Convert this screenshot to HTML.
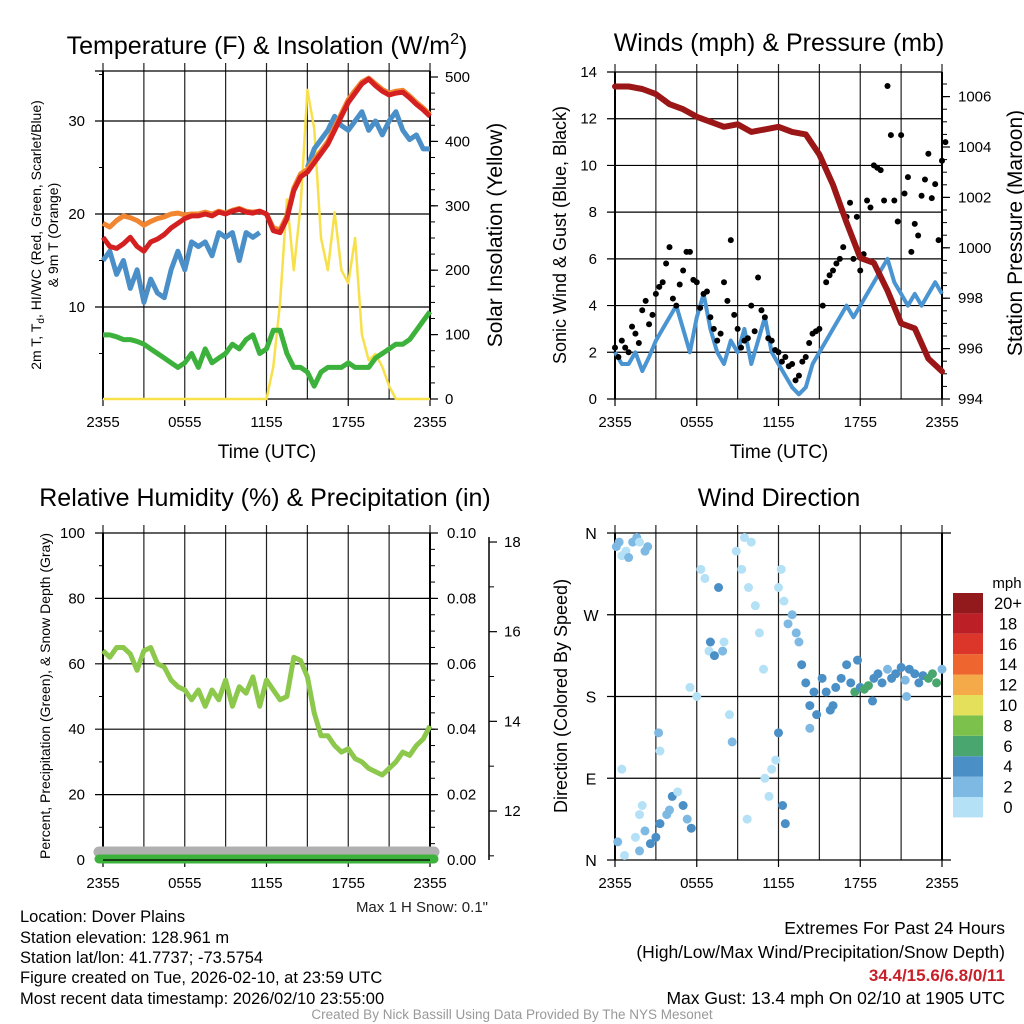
<!DOCTYPE html>
<html><head><meta charset="utf-8"><style>
html,body{margin:0;padding:0;background:#fff;}
svg{display:block;font-family:"Liberation Sans",sans-serif;}
</style></head><body>
<svg id="c" width="1024" height="1024" viewBox="0 0 1024 1024">
<g id="texts" fill="#000">
<text x="267" y="54" font-size="25" text-anchor="middle">Temperature (F) &amp; Insolation (W/m<tspan font-size="16" dy="-10">2</tspan><tspan dy="10">)</tspan></text>
<text x="779" y="51" font-size="25" text-anchor="middle">Winds (mph) &amp; Pressure (mb)</text>
<text x="265" y="506" font-size="25" text-anchor="middle">Relative Humidity (%) &amp; Precipitation (in)</text>
<text x="779" y="506" font-size="25" text-anchor="middle">Wind Direction</text>
<text x="267" y="458" font-size="19" text-anchor="middle">Time (UTC)</text>
<text x="779" y="458" font-size="19" text-anchor="middle">Time (UTC)</text>
<text transform="translate(41,235) rotate(-90)" font-size="14" text-anchor="middle">2m T, T<tspan font-size="10" dy="3">d</tspan><tspan dy="-3">, HI/WC (Red, Green, Scarlet/Blue)</tspan></text>
<text transform="translate(58,235) rotate(-90)" font-size="14" text-anchor="middle">&amp; 9m T (Orange)</text>
<text transform="translate(502,235) rotate(-90)" font-size="21" text-anchor="middle">Solar Insolation (Yellow)</text>
<text transform="translate(566,235) rotate(-90)" font-size="18" text-anchor="middle">Sonic Wind &amp; Gust (Blue, Black)</text>
<text transform="translate(1022,233) rotate(-90)" font-size="21" text-anchor="middle">Station Pressure (Maroon)</text>
<text transform="translate(50,696) rotate(-90)" font-size="14" text-anchor="middle">Percent, Precipitation (Green), &amp; Snow Depth (Gray)</text>
<text transform="translate(567,696) rotate(-90)" font-size="18" text-anchor="middle">Direction (Colored By Speed)</text>
<text x="488" y="912" font-size="15" fill="#222" text-anchor="end">Max 1 H Snow: 0.1"</text>
<g font-size="16.5">
<text x="20" y="922">Location: Dover Plains</text>
<text x="20" y="943">Station elevation: 128.961 m</text>
<text x="20" y="963">Station lat/lon: 41.7737; -73.5754</text>
<text x="20" y="983">Figure created on Tue, 2026-02-10, at 23:59 UTC</text>
<text x="20" y="1004">Most recent data timestamp: 2026/02/10 23:55:00</text>
</g>
<g font-size="17.5" text-anchor="end">
<text x="1005" y="934">Extremes For Past 24 Hours</text>
<text x="1005" y="958">(High/Low/Max Wind/Precipitation/Snow Depth)</text>
<text x="1005" y="981" fill="#c8202a" font-weight="bold" font-size="17">34.4/15.6/6.8/0/11</text>
<text x="1005" y="1004">Max Gust: 13.4 mph On 02/10 at 1905 UTC</text>
</g>
<text x="512" y="1019" font-size="13.5" fill="#999" text-anchor="middle">Created By Nick Bassill Using Data Provided By The NYS Mesonet</text>
</g>
</svg>
<script>
// ---- data ----
const xTickLabels = ["2355","0555","1155","1755","2355"];
const tempTicks = [10,20,30];
const solarTicks = [0,100,200,300,400,500];
const windTicks = [0,2,4,6,8,10,12,14];
const presTicks = [994,996,998,1000,1002,1004,1006];
const rhTicks = [0,20,40,60,80,100];
const precipLabels = ["0.00","0.02","0.04","0.06","0.08","0.10"];
const snowTicks = [12,14,16,18];
const dirLabels = ["N","E","S","W","N"];
const speedBinLabels = ["0","2","4","6","8","10","12","14","16","18","20+"];
const speedColors = ["#b4e1f6","#7db9e3","#4a8fc6","#49a66e","#7cc14b","#e5e05b","#f4aa48","#ee652f","#dc3529","#bd1f27","#92191c"];

// half-hourly (0..24h, 49 values)
const tempRed = [17.5,16.5,16.3,16.8,17.5,16.5,16,17,17.3,17.8,18.5,19,19.5,19.8,19.8,20,19.8,20.2,20,20.3,20.5,20.2,20.1,20.3,
 20,18.2,18,19.5,22.5,24,24.5,25.5,26.5,27.5,29,30.5,32,33,34,34.5,33.8,33.2,32.8,33,33.1,32.5,31.8,31.2,30.5];
const tempOrange = [19,18.6,19.3,19.8,19.6,19.3,18.8,19.2,19.5,19.7,20,20.1,19.9,20,20,20.2,20,20.3,20.1,20.4,20.6,20.3,20.2,20.3,
 20,18.5,18.3,19.8,22.8,24.3,24.8,25.8,26.8,27.8,29.3,30.8,32.3,33.3,34.2,34.6,34,33.4,33,33.2,33.3,32.7,32,31.4,30.7];
const tempBlue = [15,16,13.5,15,12,14,10.5,13,11.5,11,14,16,14,17,16.5,17,15.5,18,17.5,18,15,18,17.5,18,
 null,null,null,null,null,null,25,27,28,29,30.5,29.5,29,30,31,29,30,28.5,30,31,29,28,28.5,27,27];
const tempGreen = [7,7,6.8,6.5,6.5,6.3,6,5.5,5,4.5,4,3.5,4,5,3.5,5.5,4,4.5,5,6,5.5,6.5,7,5,
 5.5,7.5,7.5,5,3.5,3.5,3,1.5,3,3.5,3.5,3.5,4,3.5,3.5,3.5,4.5,5,5.5,6,6,6.5,7.5,8.5,9.5];
const solar = [0,0,0,0,0,0,0,0,0,0,0,0,0,0,0,0,0,0,0,0,0,0,0,0,
 0,50,150,310,200,300,480,420,250,200,290,200,180,250,100,60,70,50,20,0,0,0,0,0,0];
const windSonic = [2,1.5,1.5,2,1.2,1.8,2.5,3,3.5,4,3,2,3.5,4.5,3,2,1.5,2.5,2,3,1.5,2.5,3.5,2,
 1.5,1,0.5,0.2,0.5,1.5,2,2.5,3,3.5,4,3.5,4,4.5,5,5.5,6,5,4.5,4,4.5,4,4.5,5,4.5];
const windGust = [2.2,2.5,2,2.8,3.8,3.2,4.5,5,6.5,4,5.5,6.3,5,4.5,3.5,2.5,5,6.8,3,2.5,4,5.2,3.5,2.5,
 2,1.8,1.5,1,1.8,2.8,3,5,5.5,6,7.8,6,5.5,8.5,10,9.8,13.4,8.5,11.3,9.5,7.5,8.7,10.5,9.2,10.2];
const windGust2 = [1.8,2.2,3.1,2.4,4.2,3.6,4.8,5.8,4.3,4.9,6.3,5.1,3.9,4.6,3,2.8,4.2,3.6,2.2,2.6,2.9,3.8,2.6,2.1,
 1.6,1.4,0.8,1.6,2.4,2.9,4,5.3,5.8,6.5,8.4,7.8,6.2,8.2,9.9,8.5,11.3,7.6,8.8,6.3,7,9.4,8.6,6.8,11];
const pressure = [1006.4,1006.4,1006.3,1006.1,1005.7,1005.5,1005.2,1005,1004.8,1004.9,1004.6,1004.7,1004.8,1004.6,1004.5,1003.7,1002.5,1001,999.6,999.4,998.3,997,996.8,995.6,995.1];
const rh = [64,62,65,65,63,58,64,65,60,59,55,53,52,49,52,47,52,49,55,47,53,51,56,47,
 55,52,49,50,62,61,56,45,38,38,35,33,34,31,30,28,27,26,28,30,33,32,35,37,41];
const dirHours = [0.1,0.3,0.5,0.8,1,1.3,1.6,1.8,2.2,2.4,0.2,0.7,1.5,1.8,2.2,2.6,3,3.3,3.8,4,4.2,4.6,5,5.3,5.6,0.5,2,1.8,3.2,3.3,5.5,6,6.3,6.6,6.9,7,7.3,7.6,7.9,8,8.4,8.6,8.9,9.3,9.5,9.7,9.8,10,10.3,10.6,10.9,11,11.3,11.5,11.8,12,12.3,12.5,12,12.2,12.4,12.7,13,13.3,13.5,13.7,14,14.3,14.6,14.3,14.8,15.2,15.5,15.8,16.2,16.6,17,17.3,17.6,18,18.3,18.6,19,19.3,19.6,20,20.3,20.6,21,21.3,21.6,22,22.3,22.6,23,23.3,23.6,24,17.8,21.4,16,18.9];
const dirDegs = [345,350,335,340,333,350,355,350,340,345,20,5,25,10,32,18,25,40,50,55,70,75,60,45,35,100,60,50,140,120,190,180,320,310,230,240,225,300,230,240,160,130,340,320,355,45,300,350,280,250,210,90,70,100,110,140,60,40,300,320,285,260,270,250,240,215,195,170,185,145,160,200,185,165,190,200,215,195,185,190,188,192,200,205,195,210,200,205,212,198,210,205,195,203,200,205,195,210,220,180,170,175];
const dirSpeeds = [2.5,3,1,1.5,3,3.5,3,1,3.5,2,3,1,1,3.5,3,4.5,4,4,3,3.5,4.5,1,4,3.5,4.5,1,1,1,3,1.5,1,1,1,1,1.2,4,4.5,4.5,2.5,1,1,3.5,1,1,1,1,1,1,1,1,1,1,1,1.5,1.5,4,4,4.5,1,1,1,3.5,3,3,2.5,4,4,4.5,4.5,2.5,4,5,4.5,4.5,4,5,4,4.5,6,4.5,6.5,6.5,4,4,4.5,3,4.5,4,4.5,3,4,4.5,4,5,6.5,6,7,3,4.5,2.5,4,4.5];

// ---- axes ----
const NS="http://www.w3.org/2000/svg";
const svg=document.getElementById('c');
const xT=h=>103+h*13.625, xW=h=>615+h*13.625;
const yTemp=v=>400-v*9.3, ySol=v=>399-v*0.644;
const yWind=v=>399-v*(327/14), yPres=p=>399-(p-994)*25.2;
const yRH=v=>860-v*3.27, ySnow=v=>811-(v-12)*44.83;
const yDir=d=>860-d/360*327;
function mk(tag,attrs,parent){const e=document.createElementNS(NS,tag);for(const k in attrs)e.setAttribute(k,attrs[k]);(parent||svg).appendChild(e);return e;}
function txt(x,y,s,size,anchor,parent){const e=mk('text',{x:x,y:y,'font-size':size,'text-anchor':anchor},parent);e.textContent=s;return e;}
function line(x1,y1,x2,y2,w,col,parent){return mk('line',{x1:x1,y1:y1,x2:x2,y2:y2,stroke:col||'#000','stroke-width':w},parent);}
function pathFrom(xs,ys,fx,fy){let d='',pen=false;for(let i=0;i<ys.length;i++){if(ys[i]===null){pen=false;continue;}d+=(pen?'L':'M')+fx(xs[i]).toFixed(1)+' '+fy(ys[i]).toFixed(1);pen=true;}return d;}
const half=tempRed.map((_,i)=>i*0.5), hourly=pressure.map((_,i)=>i);

function frame(x0,top,bottom,name){
  const g=mk('g',{});
  
  
  for(let i=0;i<=8;i++){const x=x0+i*40.875;line(x,top-8,x,bottom,1.2,'#222',g);}
  line(x0,top,x0,bottom,2,'#000',g);line(x0+327,top,x0+327,bottom,2,'#000',g);
  for(let i=0;i<=4;i++){const x=x0+i*81.75;line(x,bottom,x,bottom+7,1.2,'#000',g);const t=txt(x,bottom+28,xTickLabels[i],15,'middle',g);
  
  }
  return g;
}

// Panel 1: Temperature
const g1=frame(103,71,399,'temp-panel');
tempTicks.forEach(v=>{line(95,yTemp(v),430,yTemp(v),1.2,'#000',g1);txt(85,yTemp(v)+5,String(v),15,'end',g1);});
line(95,71,430,71,1.2,'#000',g1);
[5,15,25,35].forEach(v=>line(99,yTemp(v),103,yTemp(v),1,'#000',g1));
line(103,399,430,399,1.2,'#000',g1);
solarTicks.forEach(v=>{line(430,ySol(v),438,ySol(v),1.2,'#000',g1);txt(445,ySol(v)+5,String(v),15,'start',g1);});
for(let v=25;v<500;v+=25)line(430,ySol(v),435,ySol(v),1,'#000',g1);
const pS=mk('path',{d:pathFrom(half,solar,xT,ySol),fill:'none',stroke:'#f7e04a','stroke-width':2.5,'stroke-linejoin':'round'},g1);


const pG=mk('path',{d:pathFrom(half,tempGreen,xT,yTemp),fill:'none',stroke:'#3cb23c','stroke-width':5,'stroke-linejoin':'round'},g1);


const pB=mk('path',{d:pathFrom(half,tempBlue,xT,yTemp),fill:'none',stroke:'#4a8fc8','stroke-width':5,'stroke-linejoin':'round'},g1);


const pO=mk('path',{d:pathFrom(half,tempOrange,xT,yTemp),fill:'none',stroke:'#f28530','stroke-width':5,'stroke-linejoin':'round'},g1);


const pR=mk('path',{d:pathFrom(half,tempRed,xT,yTemp),fill:'none',stroke:'#d42020','stroke-width':5,'stroke-linejoin':'round'},g1);



// Panel 2: Winds
const g2=frame(615,72,399,'wind-panel');
windTicks.forEach(v=>{line(607,yWind(v),942,yWind(v),1.2,'#000',g2);txt(597,yWind(v)+5,String(v),15,'end',g2);});
presTicks.forEach(v=>{line(942,yPres(v),950,yPres(v),1.2,'#000',g2);txt(958,yPres(v)+5,String(v),15,'start',g2);});
for(let v=994.5;v<1007;v+=0.5)line(942,yPres(v),947,yPres(v),1,'#000',g2);
const pW=mk('path',{d:pathFrom(half,windSonic,xW,yWind),fill:'none',stroke:'#4a94d2','stroke-width':4,'stroke-linejoin':'round'},g2);


windGust.forEach((v,i)=>{const c=mk('circle',{cx:xW(half[i]),cy:yWind(v),r:3,fill:'#000'},g2);

});
windGust2.forEach((v,i)=>{const c=mk('circle',{cx:xW(half[i]+0.25),cy:yWind(v),r:3,fill:'#000'},g2);

});
const pP=mk('path',{d:pathFrom(hourly,pressure,xW,yPres),fill:'none',stroke:'#9b1616','stroke-width':6,'stroke-linejoin':'round','stroke-linecap':'round'},g2);



// Panel 3: RH
const g3=frame(103,533,860,'rh-panel');
rhTicks.forEach((v,i)=>{line(95,yRH(v),430,yRH(v),1.2,'#000',g3);txt(85,yRH(v)+5,String(v),15,'end',g3);line(430,yRH(v),438,yRH(v),1.2,'#000',g3);txt(447,yRH(v)+5,precipLabels[i],15,'start',g3);});
for(let v=10;v<100;v+=20)line(99,yRH(v),103,yRH(v),1,'#000',g3);
for(let v=5;v<100;v+=5)line(430,yRH(v),435,yRH(v),1,'#000',g3);
line(489,537,489,860,1.5,'#000',g3);
snowTicks.forEach(v=>{line(489,ySnow(v),497,ySnow(v),1.2,'#000',g3);txt(504,ySnow(v)+5,String(v),15,'start',g3);});
[11,13,15,17].forEach(v=>line(489,ySnow(v),494,ySnow(v),1,'#000',g3));
const snow=mk('line',{x1:99,y1:852,x2:434,y2:852,stroke:'#b0b0b0','stroke-width':11,'stroke-linecap':'round'},g3);


const prc=mk('line',{x1:99,y1:859,x2:434,y2:859,stroke:'#3cb23c','stroke-width':9,'stroke-linecap':'round'},g3);


line(103,860,430,860,1.2,'#000',g3);
const pH=mk('path',{d:pathFrom(half,rh,xT,yRH),fill:'none',stroke:'#8cc84b','stroke-width':5,'stroke-linejoin':'round'},g3);



// Panel 4: direction
const g4=frame(615,533,860,'wdir-panel');
dirLabels.forEach((s,i)=>{const y=yDir(i*90);line(607,y,951,y,1.2,'#000',g4);txt(591,y+6,s,16,'middle',g4);});
function bin(s){return Math.min(10,Math.floor(s/2));}
dirHours.forEach((h,i)=>{const c=mk('circle',{cx:xW(h),cy:yDir(dirDegs[i]),r:4.5,fill:speedColors[bin(dirSpeeds[i])]},g4);

});
const gl=mk('g',{});


txt(1007,588,'mph',15,'middle',gl);
speedColors.forEach((c,i)=>{const y=797-i*20.4;mk('rect',{x:953,y:y,width:30,height:20.4,fill:c},gl);txt(1008,y+16,speedBinLabels[i],16.5,'middle',gl);});
</script>
</body></html>
